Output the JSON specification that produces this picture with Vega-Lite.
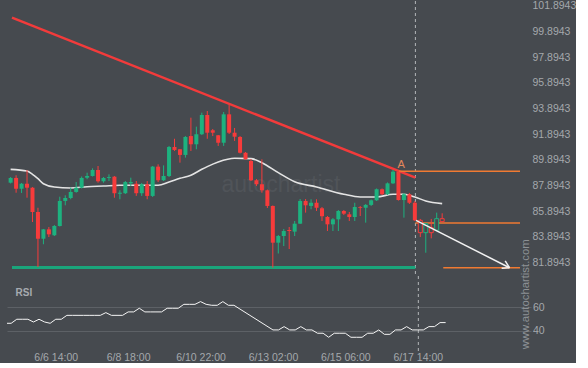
{
  "$schema": "https://vega.github.io/schema/vega-lite/v6.json",
  "background": "#464a4f",
  "padding": {"left": 7, "top": 0, "right": 0, "bottom": 0},
  "bounds": "flush",
  "spacing": 0,
  "config": {
    "view": {"stroke": null},
    "font": "Liberation Sans",
    "axis": {"labelFont": "Liberation Sans", "titleFont": "Liberation Sans", "labelOverlap": false}
  },
  "datasets": {
    "candles": [
      {"i":0,"o":88.12,"h":88.56,"l":88.06,"c":88.49},
      {"i":1,"o":88.49,"h":88.70,"l":87.34,"c":87.65},
      {"i":2,"o":87.65,"h":88.10,"l":87.32,"c":88.04},
      {"i":3,"o":88.04,"h":89.11,"l":86.95,"c":87.73},
      {"i":4,"o":87.73,"h":87.78,"l":85.06,"c":85.84},
      {"i":5,"o":85.84,"h":86.17,"l":81.56,"c":83.76},
      {"i":6,"o":83.76,"h":84.52,"l":83.33,"c":84.49},
      {"i":7,"o":84.49,"h":84.67,"l":83.89,"c":84.10},
      {"i":8,"o":84.03,"h":84.83,"l":83.97,"c":84.75},
      {"i":9,"o":84.75,"h":87.03,"l":84.71,"c":86.70},
      {"i":10,"o":86.70,"h":87.14,"l":86.36,"c":86.93},
      {"i":11,"o":86.93,"h":87.73,"l":86.83,"c":87.40},
      {"i":12,"o":87.40,"h":88.17,"l":87.34,"c":87.73},
      {"i":13,"o":87.73,"h":88.60,"l":87.67,"c":88.49},
      {"i":14,"o":88.51,"h":88.90,"l":88.39,"c":88.64},
      {"i":15,"o":88.64,"h":89.24,"l":88.60,"c":89.11},
      {"i":16,"o":89.11,"h":89.42,"l":88.12,"c":88.23},
      {"i":17,"o":88.23,"h":88.56,"l":88.12,"c":88.49},
      {"i":18,"o":88.49,"h":88.77,"l":88.25,"c":88.56},
      {"i":19,"o":88.59,"h":88.64,"l":86.95,"c":87.30},
      {"i":20,"o":87.26,"h":87.53,"l":86.83,"c":87.34},
      {"i":21,"o":87.30,"h":88.25,"l":87.24,"c":88.17},
      {"i":22,"o":88.07,"h":88.51,"l":87.86,"c":88.17},
      {"i":23,"o":88.04,"h":88.25,"l":87.09,"c":87.30},
      {"i":24,"o":87.30,"h":88.10,"l":87.09,"c":88.00},
      {"i":25,"o":88.00,"h":88.25,"l":86.83,"c":87.09},
      {"i":26,"o":87.09,"h":89.42,"l":87.01,"c":89.37},
      {"i":27,"o":89.37,"h":89.55,"l":88.17,"c":88.31},
      {"i":28,"o":88.31,"h":89.47,"l":88.25,"c":88.64},
      {"i":29,"o":88.64,"h":90.98,"l":88.56,"c":90.90},
      {"i":30,"o":90.90,"h":91.54,"l":90.59,"c":90.67},
      {"i":31,"o":90.72,"h":90.74,"l":89.68,"c":90.28},
      {"i":32,"o":90.28,"h":91.75,"l":90.07,"c":91.68},
      {"i":33,"o":91.75,"h":93.18,"l":90.59,"c":91.11},
      {"i":34,"o":91.11,"h":92.48,"l":90.72,"c":91.89},
      {"i":35,"o":91.89,"h":93.57,"l":91.83,"c":93.39},
      {"i":36,"o":93.39,"h":93.70,"l":91.54,"c":92.01},
      {"i":37,"o":92.20,"h":92.30,"l":91.75,"c":92.01},
      {"i":38,"o":91.81,"h":91.83,"l":90.98,"c":91.23},
      {"i":39,"o":91.23,"h":93.62,"l":90.98,"c":93.44},
      {"i":40,"o":93.44,"h":94.17,"l":91.91,"c":92.01},
      {"i":41,"o":92.01,"h":92.38,"l":91.37,"c":91.70},
      {"i":42,"o":91.68,"h":91.75,"l":90.39,"c":90.45},
      {"i":43,"o":90.45,"h":90.51,"l":89.89,"c":89.96},
      {"i":44,"o":89.81,"h":89.96,"l":88.25,"c":88.31},
      {"i":45,"o":88.31,"h":88.41,"l":87.86,"c":88.00},
      {"i":46,"o":88.00,"h":89.94,"l":87.34,"c":87.53},
      {"i":47,"o":87.53,"h":87.59,"l":86.15,"c":86.31},
      {"i":48,"o":86.31,"h":86.35,"l":81.51,"c":83.45},
      {"i":49,"o":83.45,"h":84.05,"l":82.61,"c":83.97},
      {"i":50,"o":83.97,"h":84.52,"l":83.19,"c":84.36},
      {"i":51,"o":84.44,"h":84.67,"l":82.96,"c":84.36},
      {"i":52,"o":84.31,"h":85.14,"l":83.97,"c":84.93},
      {"i":53,"o":84.93,"h":86.85,"l":84.91,"c":86.70},
      {"i":54,"o":86.70,"h":86.85,"l":85.79,"c":86.36},
      {"i":55,"o":86.31,"h":86.83,"l":86.05,"c":86.56},
      {"i":56,"o":86.56,"h":86.83,"l":85.92,"c":86.17},
      {"i":57,"o":86.13,"h":86.23,"l":85.14,"c":85.51},
      {"i":58,"o":85.45,"h":85.53,"l":84.36,"c":84.88},
      {"i":59,"o":84.88,"h":85.37,"l":84.36,"c":85.27},
      {"i":60,"o":85.27,"h":85.99,"l":84.36,"c":85.92},
      {"i":61,"o":85.92,"h":85.99,"l":85.61,"c":85.71},
      {"i":62,"o":85.66,"h":85.84,"l":85.14,"c":85.45},
      {"i":63,"o":85.45,"h":86.56,"l":85.14,"c":86.23},
      {"i":64,"o":86.23,"h":86.31,"l":85.53,"c":86.17},
      {"i":65,"o":86.17,"h":86.46,"l":85.01,"c":86.39},
      {"i":66,"o":86.39,"h":86.81,"l":86.31,"c":86.75},
      {"i":67,"o":86.75,"h":87.67,"l":86.70,"c":87.61},
      {"i":68,"o":87.61,"h":87.67,"l":87.16,"c":87.22},
      {"i":69,"o":87.22,"h":88.14,"l":87.16,"c":88.07},
      {"i":70,"o":88.07,"h":89.11,"l":88.02,"c":88.98},
      {"i":71,"o":88.98,"h":89.07,"l":86.73,"c":86.77},
      {"i":72,"o":86.77,"h":87.32,"l":85.40,"c":87.22},
      {"i":73,"o":87.22,"h":87.32,"l":86.46,"c":86.56},
      {"i":74,"o":86.56,"h":86.70,"l":85.14,"c":85.19},
      {"i":75,"o":85.19,"h":85.30,"l":83.89,"c":84.23,"after":true},
      {"i":76,"o":84.23,"h":84.99,"l":82.67,"c":84.93,"after":true},
      {"i":77,"o":84.62,"h":85.30,"l":83.79,"c":84.23,"after":true},
      {"i":78,"o":84.42,"h":85.79,"l":84.42,"c":85.32,"after":true},
      {"i":79,"o":85.32,"h":85.74,"l":85.06,"c":85.09,"after":true}
    ],
    "ma": [
      {"i":0,"p":89.16},{"i":3,"p":89.03},{"i":4,"p":88.77},{"i":5,"p":88.43},{"i":6,"p":88.04},
      {"i":8,"p":87.79},{"i":11,"p":87.71},{"i":14,"p":87.81},{"i":17,"p":87.86},{"i":20,"p":87.92},
      {"i":27,"p":87.92},{"i":29,"p":88.17},{"i":31,"p":88.46},{"i":33,"p":88.70},{"i":35,"p":89.16},
      {"i":36,"p":89.37},{"i":38,"p":89.73},{"i":41,"p":90.02},{"i":44,"p":89.99},{"i":46,"p":89.68},
      {"i":49,"p":88.90},{"i":52,"p":88.20},{"i":56,"p":87.79},{"i":61,"p":87.22},{"i":64,"p":87.01},
      {"i":67,"p":87.01},{"i":70,"p":87.22},{"i":72,"p":87.22},{"i":74,"p":87.01},{"i":76,"p":86.70},
      {"i":79,"p":86.49}
    ],
    "rsi": [
      {"i":0,"r":46.5},{"i":1,"r":46.5},{"i":2,"r":49.9},{"i":3,"r":49.9},{"i":4,"r":49.9},
      {"i":5,"r":47.6},{"i":6,"r":49.9},{"i":7,"r":47.6},{"i":8,"r":46.5},{"i":9,"r":49.9},
      {"i":10,"r":49.9},{"i":11,"r":53.2},{"i":12,"r":53.2},{"i":13,"r":53.2},{"i":14,"r":53.2},
      {"i":15,"r":53.2},{"i":16,"r":53.2},{"i":17,"r":53.2},{"i":18,"r":55.5},{"i":19,"r":53.2},
      {"i":20,"r":53.2},{"i":21,"r":53.2},{"i":22,"r":56.1},{"i":23,"r":56.1},{"i":24,"r":59.2},
      {"i":25,"r":56.1},{"i":26,"r":56.1},{"i":27,"r":56.1},{"i":28,"r":56.1},{"i":29,"r":59.2},
      {"i":30,"r":59.2},{"i":31,"r":59.2},{"i":32,"r":62.5},{"i":33,"r":62.5},{"i":34,"r":62.5},
      {"i":35,"r":64.8},{"i":36,"r":62.5},{"i":37,"r":61.7},{"i":38,"r":61.7},{"i":39,"r":64.8},
      {"i":40,"r":61.7},{"i":41,"r":61.7},{"i":48,"r":40.9},{"i":49,"r":40.9},{"i":50,"r":43.7},
      {"i":51,"r":40.9},{"i":52,"r":40.9},{"i":53,"r":43.7},{"i":54,"r":40.9},{"i":55,"r":40.9},
      {"i":56,"r":38.1},{"i":57,"r":38.1},{"i":58,"r":34.7},{"i":59,"r":38.1},{"i":60,"r":38.1},
      {"i":61,"r":38.1},{"i":62,"r":34.7},{"i":63,"r":34.7},{"i":64,"r":34.7},{"i":65,"r":38.1},
      {"i":66,"r":38.1},{"i":67,"r":40.9},{"i":68,"r":37.2},{"i":69,"r":37.2},{"i":70,"r":40.9},
      {"i":71,"r":40.9},{"i":72,"r":43.7},{"i":73,"r":40.9},{"i":74,"r":40.9},{"i":75,"r":40.9},
      {"i":76,"r":43.7},{"i":77,"r":43.7},{"i":78,"r":47.1},{"i":79,"r":47.1}
    ]
  },
  "vconcat": [
    {
      "width": 518,
      "height": 275,
      "layer": [
        {
          "data": {"values": [{"i": 74.1}]},
          "mark": {"type": "rule", "color": "#b3b6b9", "strokeDash": [3, 3], "strokeWidth": 1},
          "encoding": {
            "x": {
              "field": "i", "type": "quantitative",
              "scale": {"domain": [0.25, 93.25], "nice": false, "zero": false},
              "axis": {
                "labels": false, "ticks": false, "domain": false, "grid": false,
                "title": "autochartist", "titleFontSize": 23, "titleFontWeight": "normal",
                "titleColor": "#505459", "titleX": 214, "titleY": -85,
                "titleAlign": "left", "titleBaseline": "alphabetic"
              }
            }
          }
        },
        {
          "data": {"values": [{"i": 0.25, "i2": 74.1, "p": 81.52}]},
          "mark": {"type": "rule", "color": "#1aa57b", "strokeWidth": 3},
          "encoding": {
            "x": {"field": "i", "type": "quantitative"},
            "x2": {"field": "i2"},
            "y": {
              "field": "p", "type": "quantitative",
              "scale": {"domain": [80.859, 102.26], "nice": false, "zero": false},
              "axis": {
                "orient": "right", "title": null, "grid": false, "domain": false,
                "ticks": false, "tickSize": 0, "labelPadding": 7, "tickCount": 30,
                "values": [81.8943, 83.8943, 85.8943, 87.8943, 89.8943, 91.8943, 93.8943, 95.8943, 97.8943, 99.8943, 101.8943],
                "format": ".4f", "labelFontSize": 10.5, "labelColor": "#a4a8ac",
                "labelOverlap": false, "labelFlush": false, "labelBound": false
              }
            }
          }
        },
        {
          "data": {"values": [{"i": 0.25, "p": 100.96, "i2": 74.1, "p2": 88.51}]},
          "mark": {"type": "rule", "color": "#f23b3b", "strokeWidth": 2.5},
          "encoding": {
            "x": {"field": "i", "type": "quantitative"},
            "x2": {"field": "i2"},
            "y": {"field": "p", "type": "quantitative"},
            "y2": {"field": "p2"}
          }
        },
        {
          "data": {"values": [
            {"i": 71.1, "i2": 93.25, "p": 89.01},
            {"i": 74.1, "i2": 93.25, "p": 84.98},
            {"i": 79.2, "i2": 93.25, "p": 81.50}
          ]},
          "mark": {"type": "rule", "color": "#f07a32", "strokeWidth": 1.5},
          "encoding": {
            "x": {"field": "i", "type": "quantitative"},
            "x2": {"field": "i2"},
            "y": {"field": "p", "type": "quantitative"}
          }
        },
        {
          "data": {"name": "ma"},
          "mark": {"type": "line", "color": "#e4e4e4", "strokeWidth": 1.6, "interpolate": "monotone", "clip": true},
          "encoding": {
            "x": {"field": "i", "type": "quantitative"},
            "y": {"field": "p", "type": "quantitative"}
          }
        },
        {
          "data": {"name": "candles"},
          "mark": {"type": "rule", "strokeWidth": 1, "clip": true},
          "encoding": {
            "x": {"field": "i", "type": "quantitative"},
            "y": {"field": "l", "type": "quantitative"},
            "y2": {"field": "h"},
            "color": {"condition": {"test": "datum.c < datum.o", "value": "#f73b3b"}, "value": "#1db27f"}
          }
        },
        {
          "data": {"name": "candles"},
          "transform": [{"filter": "!datum.after"}],
          "mark": {"type": "bar", "width": 4, "clip": true},
          "encoding": {
            "x": {"field": "i", "type": "quantitative"},
            "y": {"field": "o", "type": "quantitative"},
            "y2": {"field": "c"},
            "fill": {"condition": {"test": "datum.c < datum.o", "value": "#f73b3b"}, "value": "#1db27f"}
          }
        },
        {
          "data": {"name": "candles"},
          "transform": [{"filter": "datum.after"}],
          "mark": {"type": "bar", "width": 4, "fill": "#464a4f", "strokeWidth": 1},
          "encoding": {
            "x": {"field": "i", "type": "quantitative"},
            "y": {"field": "o", "type": "quantitative"},
            "y2": {"field": "c"},
            "stroke": {"condition": {"test": "datum.c < datum.o", "value": "#f73b3b"}, "value": "#1db27f"}
          }
        },
        {
          "data": {"values": [
            {"i": 74.22, "p": 85.19, "i2": 91.33, "p2": 81.50},
            {"i": 91.33, "p": 81.50, "i2": 89.89, "p2": 81.47},
            {"i": 91.33, "p": 81.50, "i2": 90.54, "p2": 82.03}
          ]},
          "mark": {"type": "rule", "color": "#f2f2f2", "strokeWidth": 1.5},
          "encoding": {
            "x": {"field": "i", "type": "quantitative"},
            "x2": {"field": "i2"},
            "y": {"field": "p", "type": "quantitative"},
            "y2": {"field": "p2"}
          }
        },
        {
          "data": {"values": [{"i": 71.5, "p": 89.5, "t": "A"}]},
          "mark": {"type": "text", "color": "#e2875c", "fontSize": 11, "baseline": "middle", "align": "center"},
          "encoding": {
            "x": {"field": "i", "type": "quantitative"},
            "y": {"field": "p", "type": "quantitative"},
            "text": {"field": "t"}
          }
        }
      ]
    },
    {
      "width": 518,
      "height": 75,
      "layer": [
        {
          "data": {"values": [{"i": 74.1}]},
          "mark": {"type": "rule", "color": "#b3b6b9", "strokeDash": [3, 3], "strokeWidth": 1},
          "encoding": {
            "x": {
              "field": "i", "type": "quantitative",
              "scale": {"domain": [0.25, 93.25], "nice": false, "zero": false},
              "axis": {
                "values": [9, 22, 35, 48, 61, 74], "tickCount": 30,
                "labelExpr": "['6/6 14:00','6/8 18:00','6/10 22:00','6/13 02:00','6/15 06:00','6/17 14:00'][round((datum.value-9)/13)]",
                "labelFlush": false, "labelOverlap": false, "labelDx": -1,
                "ticks": false, "tickSize": 0, "domain": false, "grid": false,
                "labelPadding": 1, "labelFontSize": 10.5, "labelColor": "#a4a8ac",
                "title": "RSI", "titleFontSize": 10, "titleFontWeight": "bold",
                "titleColor": "#a6aab0", "titleX": 8, "titleY": -58.7,
                "titleAlign": "left", "titleBaseline": "middle"
              }
            }
          }
        },
        {
          "data": {"name": "rsi"},
          "mark": {"type": "line", "color": "#f5f5f5", "strokeWidth": 1, "clip": true},
          "encoding": {
            "x": {"field": "i", "type": "quantitative"},
            "y": {
              "field": "r", "type": "quantitative",
              "scale": {"domain": [23.12, 86.41], "nice": false, "zero": false},
              "axis": {
                "orient": "right", "values": [40, 60], "grid": true, "gridColor": "#5d6166",
                "ticks": true, "tickSize": 6, "tickColor": "#5d6166", "domain": false,
                "labelPadding": 1.5, "labelFontSize": 10.5, "labelColor": "#a4a8ac",
                "title": "www.autochartist.com", "titleAngle": 270, "titleFontSize": 11.3,
                "titleFontWeight": "normal", "titleColor": "#8d9195",
                "titleX": 0, "titleY": 17.8, "titleAlign": "center", "titleBaseline": "middle"
              }
            }
          }
        }
      ]
    }
  ]
}
